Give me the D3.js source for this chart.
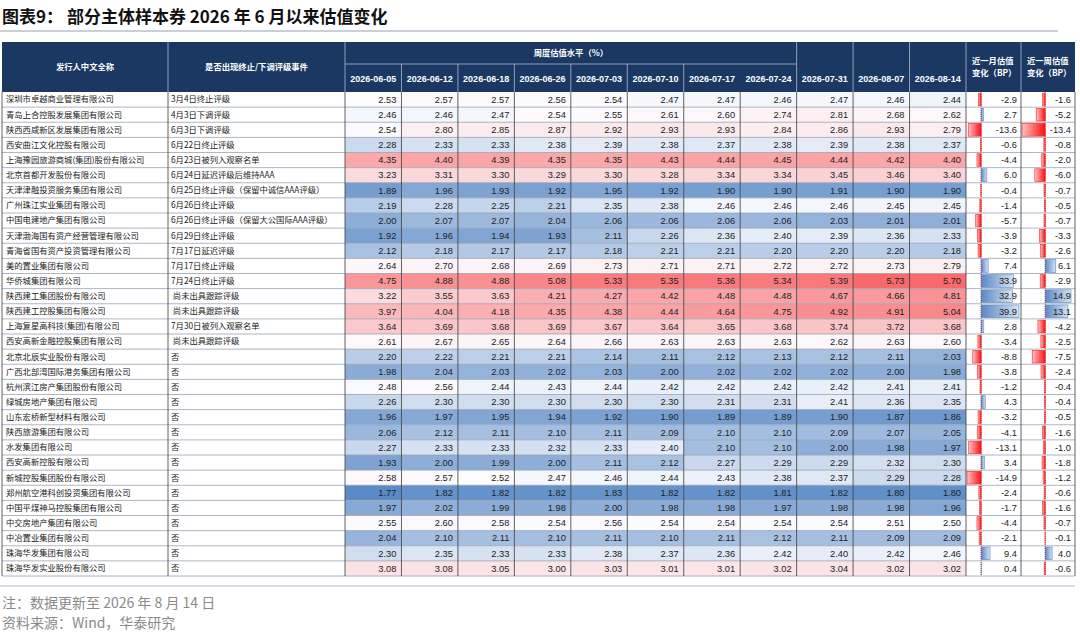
<!DOCTYPE html>
<html>
<head>
<meta charset="utf-8">
<script src="https://cdn.jsdelivr.net/npm/d3@7"></script>
<style>
  body { margin: 0; background: #fff; }
  svg { display: block; }
</style>
</head>
<body>
<div class="tableChart"></div>
<script>
const WIDTH = 1080;
const HEIGHT = 633;

// table geometry
const X_NAME = 2, X_EVENT = 168, X_DATE0 = 345, X_DATE1 = 966, X_MONTH1 = 1021, X_WEEK1 = 1075;
const HEAD_TOP = 42, HEAD_MID = 64, HEAD_BOT = 92, TABLE_BOT = 576;

const CJK = '"Noto Sans CJK SC", "Noto Sans", sans-serif';
const NUM = '"Liberation Sans", Arial, sans-serif';

var dates = ['2026-06-05', '2026-06-12', '2026-06-18', '2026-06-26', '2026-07-03', '2026-07-10',
    '2026-07-17', '2026-07-24', '2026-07-31', '2026-08-07', '2026-08-14'];

var issuers = [
    '深圳市卓越商业管理有限公司', '青岛上合控股发展集团有限公司', '陕西西咸新区发展集团有限公司',
    '西安曲江文化控股有限公司', '上海豫园旅游商城(集团)股份有限公司', '北京首都开发股份有限公司',
    '天津津融投资服务集团有限公司', '广州珠江实业集团有限公司', '中国电建地产集团有限公司',
    '天津渤海国有资产经营管理有限公司', '青海省国有资产投资管理有限公司', '美的置业集团有限公司',
    '华侨城集团有限公司', '陕西建工集团股份有限公司', '陕西建工控股集团有限公司',
    '上海复星高科技(集团)有限公司', '西安高新金融控股集团有限公司', '北京北辰实业股份有限公司',
    '广西北部湾国际港务集团有限公司', '杭州滨江房产集团股份有限公司', '绿城房地产集团有限公司',
    '山东宏桥新型材料有限公司', '陕西旅游集团有限公司', '水发集团有限公司',
    '西安高新控股有限公司', '新城控股集团股份有限公司', '郑州航空港科创投资集团有限公司',
    '中国平煤神马控股集团有限公司', '中交房地产集团有限公司', '中冶置业集团有限公司',
    '珠海华发集团有限公司', '珠海华发实业股份有限公司'
];

var events = [
    '3月4日终止评级', '4月3日下调评级', '6月3日下调评级', '6月22日终止评级',
    '6月23日被列入观察名单', '6月24日延迟评级后维持AAA', '6月25日终止评级（保留中诚信AAA评级）',
    '6月26日终止评级', '6月26日终止评级（保留大公国际AAA评级）', '6月29日终止评级',
    '7月17日延迟评级', '7月17日终止评级', '7月24日终止评级', ' 尚未出具跟踪评级',
    ' 尚未出具跟踪评级', '7月30日被列入观察名单', ' 尚未出具跟踪评级',
    '否', '否', '否', '否', '否', '否', '否', '否', '否', '否', '否', '否', '否', '否', '否'
];

// weekly valuation level (%), one row per issuer, columns follow `dates`
var levels = [
    [2.53, 2.57, 2.57, 2.56, 2.54, 2.47, 2.47, 2.46, 2.47, 2.46, 2.44],
    [2.46, 2.46, 2.47, 2.54, 2.55, 2.61, 2.60, 2.74, 2.81, 2.68, 2.62],
    [2.54, 2.80, 2.85, 2.87, 2.92, 2.93, 2.93, 2.84, 2.86, 2.93, 2.79],
    [2.28, 2.33, 2.33, 2.38, 2.39, 2.38, 2.37, 2.38, 2.39, 2.38, 2.37],
    [4.35, 4.40, 4.39, 4.35, 4.35, 4.43, 4.44, 4.45, 4.44, 4.42, 4.40],
    [3.23, 3.31, 3.30, 3.29, 3.30, 3.28, 3.34, 3.34, 3.45, 3.46, 3.40],
    [1.89, 1.96, 1.93, 1.92, 1.95, 1.92, 1.90, 1.90, 1.91, 1.90, 1.90],
    [2.19, 2.28, 2.25, 2.21, 2.35, 2.38, 2.46, 2.46, 2.46, 2.45, 2.45],
    [2.00, 2.07, 2.07, 2.04, 2.06, 2.06, 2.06, 2.06, 2.03, 2.01, 2.01],
    [1.92, 1.96, 1.94, 1.93, 2.11, 2.26, 2.36, 2.40, 2.39, 2.36, 2.33],
    [2.12, 2.18, 2.17, 2.17, 2.18, 2.21, 2.21, 2.20, 2.20, 2.20, 2.18],
    [2.64, 2.70, 2.68, 2.69, 2.73, 2.71, 2.71, 2.72, 2.72, 2.73, 2.79],
    [4.75, 4.88, 4.88, 5.08, 5.33, 5.35, 5.36, 5.34, 5.39, 5.73, 5.70],
    [3.22, 3.55, 3.63, 4.21, 4.27, 4.42, 4.48, 4.48, 4.67, 4.66, 4.81],
    [3.97, 4.04, 4.18, 4.35, 4.38, 4.44, 4.64, 4.75, 4.92, 4.91, 5.04],
    [3.64, 3.69, 3.68, 3.69, 3.67, 3.64, 3.65, 3.68, 3.74, 3.72, 3.68],
    [2.61, 2.67, 2.65, 2.64, 2.66, 2.63, 2.63, 2.63, 2.62, 2.63, 2.60],
    [2.20, 2.22, 2.21, 2.21, 2.14, 2.11, 2.12, 2.13, 2.12, 2.11, 2.03],
    [1.98, 2.04, 2.03, 2.02, 2.03, 2.00, 2.02, 2.02, 2.02, 2.00, 1.98],
    [2.48, 2.56, 2.44, 2.43, 2.44, 2.42, 2.42, 2.42, 2.42, 2.41, 2.41],
    [2.26, 2.30, 2.30, 2.30, 2.30, 2.30, 2.31, 2.31, 2.41, 2.36, 2.35],
    [1.96, 1.97, 1.95, 1.94, 1.92, 1.90, 1.89, 1.89, 1.90, 1.87, 1.86],
    [2.06, 2.12, 2.11, 2.10, 2.11, 2.09, 2.10, 2.10, 2.09, 2.07, 2.05],
    [2.27, 2.33, 2.33, 2.32, 2.33, 2.40, 2.10, 2.10, 2.00, 1.98, 1.97],
    [1.93, 2.00, 1.99, 2.00, 2.11, 2.12, 2.27, 2.29, 2.29, 2.32, 2.30],
    [2.58, 2.57, 2.52, 2.47, 2.46, 2.44, 2.43, 2.38, 2.37, 2.29, 2.28],
    [1.77, 1.82, 1.82, 1.82, 1.83, 1.82, 1.82, 1.81, 1.82, 1.80, 1.80],
    [1.97, 2.02, 1.99, 1.98, 2.00, 1.98, 1.98, 1.97, 1.98, 1.98, 1.96],
    [2.55, 2.60, 2.58, 2.54, 2.56, 2.54, 2.54, 2.54, 2.54, 2.51, 2.50],
    [2.04, 2.10, 2.11, 2.10, 2.11, 2.10, 2.11, 2.12, 2.11, 2.09, 2.09],
    [2.30, 2.35, 2.33, 2.33, 2.38, 2.37, 2.36, 2.42, 2.40, 2.42, 2.46],
    [3.08, 3.08, 3.05, 3.00, 3.03, 3.01, 3.01, 3.02, 3.04, 3.02, 3.02]
];

// change in BP
var chgMonth = [-2.9, 2.7, -13.6, -0.6, -4.4, 6.0, -0.4, -1.4, -5.7, -3.9, -3.2, 7.4, 33.9, 32.9, 39.9, 2.8,
    -3.4, -8.8, -3.8, -1.2, 4.3, -3.2, -4.1, -13.1, 3.4, -14.9, -2.4, -1.7, -4.4, -2.1, 9.4, 0.4];
var chgWeek = [-1.6, -5.2, -13.4, -0.8, -2.0, -6.0, -0.7, -0.5, -0.7, -3.3, -2.6, 6.1, -2.9, 14.9, 13.1, -4.2,
    -2.5, -7.5, -2.4, -0.4, -0.4, -0.5, -1.6, -1.0, -1.8, -1.2, -0.6, -1.6, -0.7, -0.1, 4.0, -0.6];

var rowIdx = d3.range(issuers.length);
var xDate = d3.scaleBand().domain(dates).range([X_DATE0, X_DATE1]);
var yRow = d3.scaleBand().domain(rowIdx).range([HEAD_BOT, TABLE_BOT]);

var allLevels = d3.merge(levels);
var heat = d3.scaleLinear()
    .domain([d3.min(allLevels), 2.5, d3.max(allLevels)])
    .range(['#5a8ac6', '#fcfcff', '#f8696b']);

var xMonth = d3.scaleLinear().domain(d3.extent(chgMonth)).range([X_DATE1 + 1, X_MONTH1 - 2]);
var xWeek = d3.scaleLinear().domain(d3.extent(chgWeek)).range([X_MONTH1 + 1, X_WEEK1 - 4]);

var svg = d3.select('.tableChart').append('svg')
    .attr('width', WIDTH)
    .attr('height', HEIGHT);

var defs = svg.append('defs');
function gradient(id, from, to) {
    var g = defs.append('linearGradient').attr('id', id);
    g.append('stop').attr('offset', '0%').attr('stop-color', from);
    g.append('stop').attr('offset', '100%').attr('stop-color', to);
}
gradient('negGrad', '#ffc4c4', '#ff1010');
gradient('posGrad', '#5a87c5', '#d6e2f2');

function drawTitle() {
    svg.append('text')
        .attr('x', 2).attr('y', 23)
        .attr('font-family', CJK).attr('font-size', 17).attr('font-weight', 'bold')
        .attr('fill', '#111')
        .text('图表9：  部分主体样本券 2026 年 6 月以来估值变化');
    svg.append('line')
        .attr('x1', 0).attr('x2', 1058).attr('y1', 31).attr('y2', 31)
        .attr('stroke', '#c9d0da').attr('stroke-width', 2);
}

function drawHeader() {
    var g = svg.append('g');
    g.append('rect')
        .attr('x', X_NAME).attr('y', HEAD_TOP)
        .attr('width', X_WEEK1 - X_NAME).attr('height', HEAD_BOT - HEAD_TOP)
        .attr('fill', '#1b3862');

    var lineColor = '#aebbd0';
    // full-height separators
    var fullX = [X_EVENT, X_DATE0, xDate('2026-07-31'), xDate('2026-08-07'), xDate('2026-08-14'), X_DATE1, X_MONTH1];
    g.selectAll('line.full').data(fullX).enter().append('line')
        .attr('x1', d => d).attr('x2', d => d)
        .attr('y1', HEAD_TOP).attr('y2', HEAD_BOT)
        .attr('stroke', lineColor).attr('stroke-width', 0.8);
    // lower-row separators under merged cell
    var lowX = dates.slice(1, 7).map(d => xDate(d));
    g.selectAll('line.low').data(lowX).enter().append('line')
        .attr('x1', d => d).attr('x2', d => d)
        .attr('y1', HEAD_MID).attr('y2', HEAD_BOT)
        .attr('stroke', lineColor).attr('stroke-width', 0.8);
    g.append('line')
        .attr('x1', X_DATE0).attr('x2', xDate('2026-07-31'))
        .attr('y1', HEAD_MID).attr('y2', HEAD_MID)
        .attr('stroke', lineColor).attr('stroke-width', 0.8);

    var txt = (x, y, s, anchor) => g.append('text')
        .attr('x', x).attr('y', y).attr('dy', '0.35em')
        .attr('text-anchor', anchor || 'middle')
        .attr('font-family', CJK).attr('font-size', 8.3).attr('font-weight', 'bold')
        .attr('fill', '#fff').text(s);

    txt((X_NAME + X_EVENT) / 2, 67, '发行人中文全称');
    txt((X_EVENT + X_DATE0) / 2, 67, '是否出现终止/下调评级事件');
    txt((X_DATE0 + xDate('2026-07-31')) / 2, 53, '周度估值水平（%）');
    txt(X_DATE1 + 6, 61, '近一月估值', 'start');
    txt(X_DATE1 + 6, 73, '变化（BP）', 'start');
    txt(X_MONTH1 + 6, 61, '近一周估值', 'start');
    txt(X_MONTH1 + 6, 73, '变化（BP）', 'start');

    g.selectAll('text.date').data(dates).enter().append('text')
        .attr('x', d => xDate(d) + xDate.bandwidth() / 2)
        .attr('y', 79).attr('dy', '0.35em')
        .attr('text-anchor', 'middle')
        .attr('font-family', NUM).attr('font-size', 9).attr('font-weight', 'bold')
        .attr('fill', '#fff').text(d => d);
}

function drawBody() {
    var g = svg.append('g');
    var rows = g.selectAll('g.row').data(rowIdx).enter().append('g')
        .attr('transform', i => 'translate(0,' + yRow(i) + ')');
    var h = yRow.bandwidth();

    // heat cells
    rows.selectAll('rect.cell')
        .data(i => levels[i].map((v, j) => ({ date: dates[j], v: v })))
        .enter().append('rect')
        .attr('x', d => xDate(d.date)).attr('y', 0)
        .attr('width', xDate.bandwidth()).attr('height', h)
        .attr('fill', d => heat(d.v));
    rows.selectAll('text.cell')
        .data(i => levels[i].map((v, j) => ({ date: dates[j], v: v })))
        .enter().append('text')
        .attr('x', d => xDate(d.date) + xDate.bandwidth() - 5)
        .attr('y', h / 2).attr('dy', '0.35em')
        .attr('text-anchor', 'end')
        .attr('font-family', NUM).attr('font-size', 9.3).attr('fill', '#222')
        .text(d => d.v.toFixed(2));

    // names and events
    rows.append('text')
        .attr('x', X_NAME + 4).attr('y', h / 2).attr('dy', '0.35em')
        .attr('font-family', CJK).attr('font-size', 8.3).attr('fill', '#222')
        .text(i => issuers[i]);
    rows.append('text')
        .attr('x', X_EVENT + 3).attr('y', h / 2).attr('dy', '0.35em')
        .attr('font-family', CJK).attr('font-size', 8.3).attr('fill', '#222')
        .attr('xml:space', 'preserve')
        .text(i => events[i]);

    // data bars
    function bars(values, scale, right) {
        rows.append('rect')
            .attr('x', i => Math.min(scale(0), scale(values[i])))
            .attr('y', 1.2)
            .attr('width', i => Math.abs(scale(values[i]) - scale(0)))
            .attr('height', h - 2.4)
            .attr('fill', i => values[i] < 0 ? 'url(#negGrad)' : 'url(#posGrad)')
            .attr('stroke', i => values[i] < 0 ? '#ff2020' : '#5a87c5')
            .attr('stroke-width', 0.6);
        rows.append('text')
            .attr('x', right - 4).attr('y', h / 2).attr('dy', '0.35em')
            .attr('text-anchor', 'end')
            .attr('font-family', NUM).attr('font-size', 9.3).attr('fill', '#222')
            .text(i => values[i].toFixed(1));
        g.append('line')
            .attr('x1', scale(0)).attr('x2', scale(0))
            .attr('y1', HEAD_BOT).attr('y2', TABLE_BOT)
            .attr('stroke', '#b02030').attr('stroke-width', 0.8)
            .attr('stroke-dasharray', '1,1');
    }
    bars(chgMonth, xMonth, X_MONTH1);
    bars(chgWeek, xWeek, X_WEEK1);

    // grid
    var hLines = rowIdx.map(i => yRow(i) + yRow.bandwidth());
    g.selectAll('line.h').data(hLines).enter().append('line')
        .attr('x1', X_NAME).attr('x2', X_WEEK1)
        .attr('y1', d => d).attr('y2', d => d)
        .attr('stroke', '#9aa3b2').attr('stroke-width', 0.8);
    var vLines = [X_NAME, X_EVENT].concat(dates.map(d => xDate(d)), [X_DATE1, X_MONTH1, X_WEEK1]);
    g.selectAll('line.v').data(vLines).enter().append('line')
        .attr('x1', d => d).attr('x2', d => d)
        .attr('y1', HEAD_BOT).attr('y2', TABLE_BOT)
        .attr('stroke', '#3a3a3a').attr('stroke-width', 0.8);
}

function drawNotes() {
    svg.append('line')
        .attr('x1', 0).attr('x2', X_WEEK1).attr('y1', 586).attr('y2', 586)
        .attr('stroke', '#c9d0da').attr('stroke-width', 1.5);
    var notes = ['注：数据更新至 2026 年 8 月 14 日', '资料来源：Wind，华泰研究'];
    svg.selectAll('text.note').data(notes).enter().append('text')
        .attr('x', 2).attr('y', (d, i) => 608 + i * 20)
        .attr('font-family', CJK).attr('font-size', 14).attr('fill', '#8a8a8a')
        .text(d => d);
}

drawTitle();
drawHeader();
drawBody();
drawNotes();
</script>
</body>
</html>
